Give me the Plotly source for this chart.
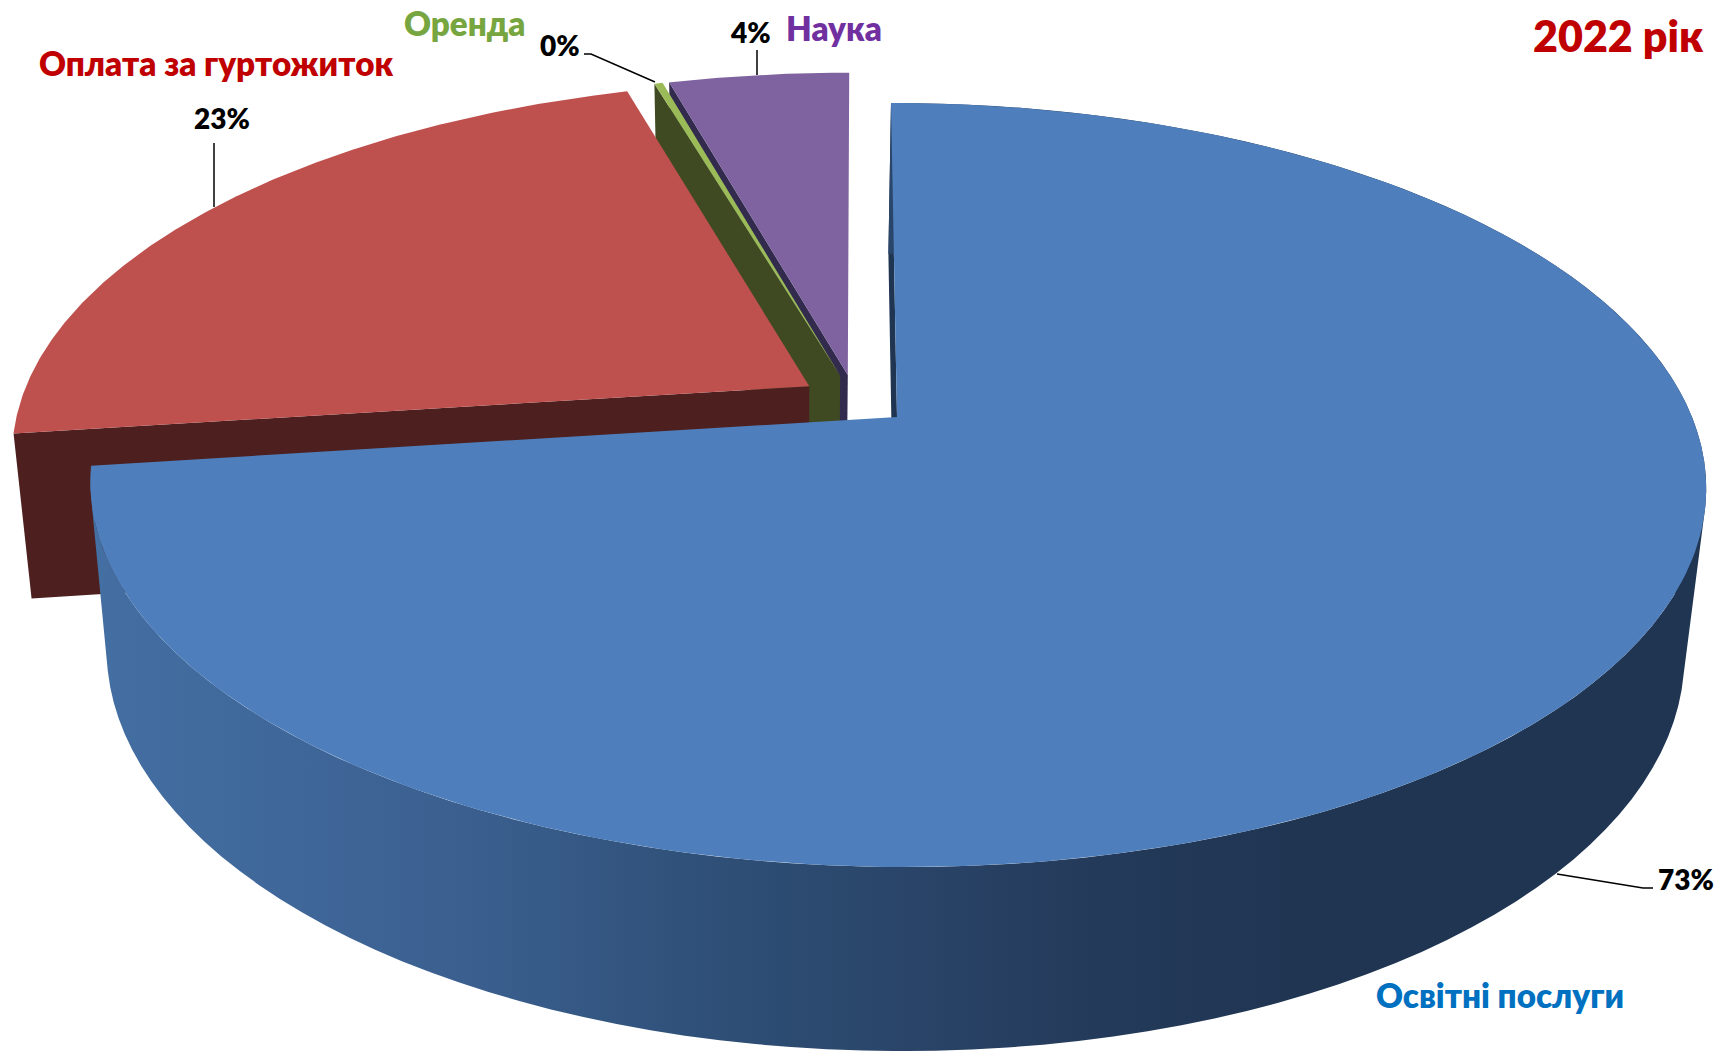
import math
import numpy as np
import plotly.graph_objects as go

# ---- data -----------------------------------------------------------------
categories = ["Освітні послуги", "Оплата за гуртожиток", "Оренда", "Наука"]
values = [72.95, 22.5, 0.2, 4.35]
percent_labels = ["73%", "23%", "0%", "4%"]
top_colors = ["#4E7FBC", "#BE504E", "#9BBB59", "#7F63A0"]
wall_colors = ["#1F3552", "#4D1F1E", "#3F4A22", "#332B4D"]
name_colors = ["#0070C0", "#C00000", "#77A640", "#7030A0"]
name_pos = [(1500, 995), (216, 63), (465, 23), (834, 28)]
label_pos = [(1686, 879), (222, 118), (560, 45), (750, 32)]
leader_x = [[1557, 1643, 1653], [214, 214], [655, 591, 584], [757, 757]]
leader_y = [[874, 888, 888], [207, 143], [82, 54, 54], [75, 50]]
title_text = "2022 рік"

EXPLODE = 0.07
W, H = 1733, 1051
FONT = "Lato, 'Noto Sans', sans-serif"


def project(u, v):
    """Perspective view of the unit disc onto the picture plane."""
    d = 1 + 0.178 * v
    return (795 * u + 152.6 * v + 897) / d, (-295.7 * v + 417) / d


def lower(x, y):
    """Same point on the underside of the pie."""
    x, y = np.asarray(x, float), np.asarray(y, float)
    return 780 + (x - 780) * 0.9765, y + 167.4 + (y - 486) * 0.0437


fractions = np.cumsum([0] + values) / sum(values) * 2 * math.pi
starts, ends = fractions[:-1], fractions[1:]
mids = (starts + ends) / 2
base_u, base_v = math.sin(mids[0]), math.cos(mids[0])


def slice_geometry(i):
    off_u = EXPLODE * (math.sin(mids[i]) - base_u)
    off_v = EXPLODE * (math.cos(mids[i]) - base_v)
    t = np.linspace(starts[i], ends[i], 240)
    rim_x, rim_y = project(off_u + np.sin(t), off_v + np.cos(t))
    apex_x, apex_y = project(off_u, off_v)
    return apex_x, apex_y, rim_x, rim_y


def polygon(xs, ys, color=None, gradient=None):
    kw = dict(x=list(xs), y=list(ys), mode="lines", fill="toself",
              line=dict(width=0), hoverinfo="skip", showlegend=False)
    if gradient:
        kw["fillgradient"] = gradient
        kw["fillcolor"] = "rgba(0,0,0,0)"
    else:
        kw["fillcolor"] = color
    return go.Scatter(**kw)


def strips(rx, ry, lx, ly):
    """Quads of the swept wall, all wound the same way so overlaps stay filled."""
    qx, qy = [], []
    for k in range(0, len(rx) - 2, 2):
        xs = [rx[k], rx[k + 2], lx[k + 2], lx[k]]
        ys = [ry[k], ry[k + 2], ly[k + 2], ly[k]]
        area = sum(xs[j] * ys[(j + 1) % 4] - xs[(j + 1) % 4] * ys[j] for j in range(4))
        if area < 0:
            xs, ys = xs[::-1], ys[::-1]
        qx += xs + [xs[0], None]
        qy += ys + [ys[0], None]
    return qx, qy


fig = go.Figure()

for i in [3, 2, 1, 0]:          # back to front
    ax, ay, rx, ry = slice_geometry(i)
    # wall on the start side of the slice
    bx, by = lower([ax, rx[0]], [ay, ry[0]])
    fig.add_trace(polygon([ax, rx[0], bx[1], bx[0]], [ay, ry[0], by[1], by[0]],
                          color=wall_colors[i]))
    if i == 0:                  # the outer wall of the large slice
        lx, ly = lower(rx, ry)
        qx, qy = strips(rx, ry, lx, ly)
        grad = dict(type="horizontal", start=90, stop=1710,
                    colorscale=[[0, "#446FA3"], [0.228, "#3B6090"],
                                [0.377, "#2F5078"], [0.623, "#243A5A"],
                                [0.747, "#1F3552"], [1, "#1F3552"]])
        fig.add_trace(polygon(qx, qy, gradient=grad))
    fig.add_trace(polygon(np.r_[ax, rx], np.r_[ay, ry], color=top_colors[i]))

for lx, ly in zip(leader_x, leader_y):
    fig.add_trace(go.Scatter(x=lx, y=ly, mode="lines", showlegend=False, hoverinfo="skip",
                             line=dict(color="#000000", width=1.5)))

annotations = []
for name, pos, col in zip(categories, name_pos, name_colors):
    annotations.append(dict(x=pos[0], y=pos[1], text=name, showarrow=False,
                            xanchor="center", yanchor="middle",
                            font=dict(family=FONT, size=33.2, color=col, weight=800)))
for lab, pos in zip(percent_labels, label_pos):
    annotations.append(dict(x=pos[0], y=pos[1], text=lab, showarrow=False,
                            xanchor="center", yanchor="middle",
                            font=dict(family=FONT, size=28, color="#000000", weight=800)))
annotations.append(dict(x=1618, y=35, text=title_text, showarrow=False,
                        xanchor="center", yanchor="middle",
                        font=dict(family=FONT, size=43, color="#C00000", weight=800)))

fig.update_layout(
    width=W, height=H, margin=dict(l=0, r=0, t=0, b=0),
    paper_bgcolor="white", plot_bgcolor="white",
    xaxis=dict(range=[0, W], visible=False, fixedrange=True),
    yaxis=dict(range=[H, 0], visible=False, fixedrange=True),
    annotations=annotations,
)

fig.write_html("out.html", config={"displayModeBar": False},
               post_script="document.body.style.margin='0';")
